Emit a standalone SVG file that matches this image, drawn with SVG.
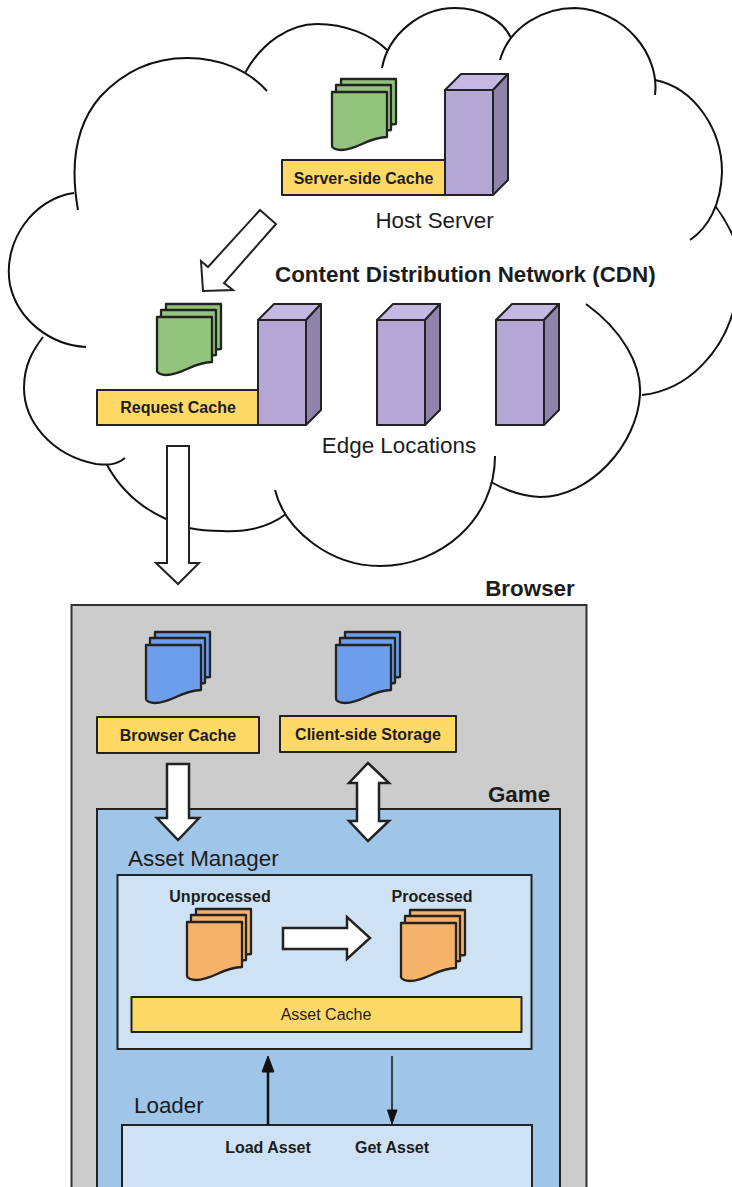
<svg xmlns="http://www.w3.org/2000/svg" width="732" height="1187" viewBox="0 0 732 1187">
<style>
text{font-family:"Liberation Sans",Arial,sans-serif;fill:#1c1c1c}
.b{font-weight:700;font-size:16px;text-anchor:middle}
.h{font-weight:700;font-size:22.4px}
.r{font-size:22.4px}
.m{text-anchor:middle}
.s{font-size:16px}
.cloud{fill:none;stroke:#111;stroke-width:2}
.o{stroke:#222;stroke-width:2;stroke-linejoin:round}
.y{fill:#ffd966}
.front{fill:#b4a7d6}.top{fill:#c4b9e2}.side{fill:#8e83ab}
.ar{fill:#fff;stroke:#222;stroke-width:2;stroke-linejoin:miter}
.ar2{stroke-width:2.500}
.green{fill:#93c47d}.blue{fill:#6d9eeb}.orange{fill:#f6b26b}
</style>
<defs>
<path id="pg" d="M0,0H55V45C36,45 26,58 9,58C4,58 0,56 0,54Z"/>
<g id="stack" stroke="#222" stroke-width="2.300" stroke-linejoin="round">
<use href="#pg" x="9" y="-13"/><use href="#pg" x="4" y="-7"/><use href="#pg"/>
</g>
<g id="server" class="o">
<path class="top" d="M0,16L16,0H63L48,16Z"/>
<path class="side" d="M48,16L63,0V106L48,121Z"/>
<rect class="front" x="0" y="16" width="48" height="105"/>
</g>
</defs>
<rect width="732" height="1187" fill="#fff"/>
<g id="cloud" class="cloud">
<path d="M78,210C70,165 76,125 100,97C125,70 155,58 187,58C220,58 248,70 267,91"/>
<path d="M245,73C262,42 290,24 317,24C345,24 372,35 387,50"/>
<path d="M382,68C388,35 420,8 455,8C480,8 503,20 511,38"/>
<path d="M500,60C510,25 545,8 575,8C625,10 660,55 655,95"/>
<path d="M655,80C695,88 722,130 722,172C721,205 708,228 690,240"/>
<path d="M716,207C722,215 728,225 733,236"/>
<path d="M733,312C722,350 690,390 642,395"/>
<path d="M586,304C622,330 642,365 640,395C637,445 590,497 540,497C522,496 505,490 491,482"/>
<path d="M495,456C495,520 440,566 380,566C330,566 285,530 275,490"/>
<path d="M286,514C265,530 240,532 222,531C210,531 198,530 189,528"/>
<path d="M166,519C135,505 118,485 107,465"/>
<path d="M125,458C115,466 105,465 96,464C50,455 24,420 24,388C24,365 33,350 43,337"/>
<path d="M86,347C50,345 18,320 10,285C2,240 35,198 74,193"/>
</g>
<g id="cdn-label"><text class="h" x="275" y="282">Content Distribution Network (CDN)</text></g>
<g id="host-server">
<rect class="o y" x="282" y="160" width="163" height="35"/>
<text class="b" x="363.500" y="184">Server-side Cache</text>
<use href="#server" x="445" y="74"/>
<use href="#stack" class="green" x="332" y="92"/>
<text class="r m" x="434.500" y="228">Host Server</text>
</g>
<g id="edge-1">
<rect class="o y" x="97" y="390" width="161" height="35"/>
<text class="b" x="178" y="413">Request Cache</text>
<use href="#server" x="258" y="304"/>
<use href="#stack" class="green" x="157" y="317"/>
</g>
<g id="edge-2"><use href="#server" x="377" y="304"/></g>
<g id="edge-3"><use href="#server" x="496" y="304"/></g>
<g id="edge-label"><text class="r m" x="399" y="453">Edge Locations</text></g>
<g id="browser">
<rect x="71.500" y="605" width="515" height="600" fill="#ccc" stroke="#333" stroke-width="2"/>
<text class="h m" x="530" y="596">Browser</text>
</g>
<g id="browser-cache">
<use href="#stack" class="blue" x="146" y="645"/>
<rect class="o y" x="97" y="717" width="162" height="36"/>
<text class="b" x="178" y="741">Browser Cache</text>
</g>
<g id="client-storage">
<use href="#stack" class="blue" x="336" y="645"/>
<rect class="o y" x="280" y="716" width="176" height="36"/>
<text class="b" x="368" y="740">Client-side Storage</text>
</g>
<g id="game">
<rect x="97" y="809" width="463" height="400" fill="#9fc5e8" stroke="#222" stroke-width="2"/>
<text class="h m" x="519" y="802">Game</text>
</g>
<g id="asset-manager">
<text class="r" x="128" y="866">Asset Manager</text>
<rect x="117.500" y="875" width="414" height="174" fill="#cfe2f3" stroke="#222" stroke-width="2"/>
</g>
<g id="unprocessed">
<text class="b" x="220" y="902">Unprocessed</text>
<use href="#stack" class="orange" x="187" y="922"/>
</g>
<g id="processed">
<text class="b" x="432" y="902">Processed</text>
<use href="#stack" class="orange" x="401" y="923"/>
</g>
<g id="asset-cache">
<rect class="o y" x="131.500" y="997" width="390" height="35"/>
<text class="s m" x="326" y="1020">Asset Cache</text>
</g>
<g id="loader">
<text class="r" x="134" y="1113">Loader</text>
<rect x="122" y="1125" width="410" height="80" fill="#cfe2f3" stroke="#222" stroke-width="2"/>
<text class="b" x="268" y="1153">Load Asset</text>
<text class="b" x="392" y="1153">Get Asset</text>
</g>
<g id="connectors">
<path class="ar" d="M260,210L276,224L224,283L233,290L203,291L201,261L208,267Z"/>
<path class="ar" d="M167,446H189V563H199L178,584L156,563H167Z"/>
<path class="ar ar2" d="M167,764H189V818H199L178,840L157,818H167Z"/>
<path class="ar ar2" d="M368,763L389,783H379V821H389L368,841L349,821H357V783H349Z"/>
<path class="ar ar2" d="M283,928H347V917L370,938L347,959V949H283Z"/>
<g id="load-link"><line x1="268" y1="1125" x2="268" y2="1070" stroke="#111" stroke-width="2.500"/><path d="M268,1056L274,1072H262Z" fill="#111" stroke="#111"/></g>
<g id="get-link"><line x1="392" y1="1056" x2="392" y2="1112" stroke="#111" stroke-width="1.500"/><path d="M392,1124L397,1110H387.500Z" fill="#111" stroke="#111"/></g>
</g>
</svg>
